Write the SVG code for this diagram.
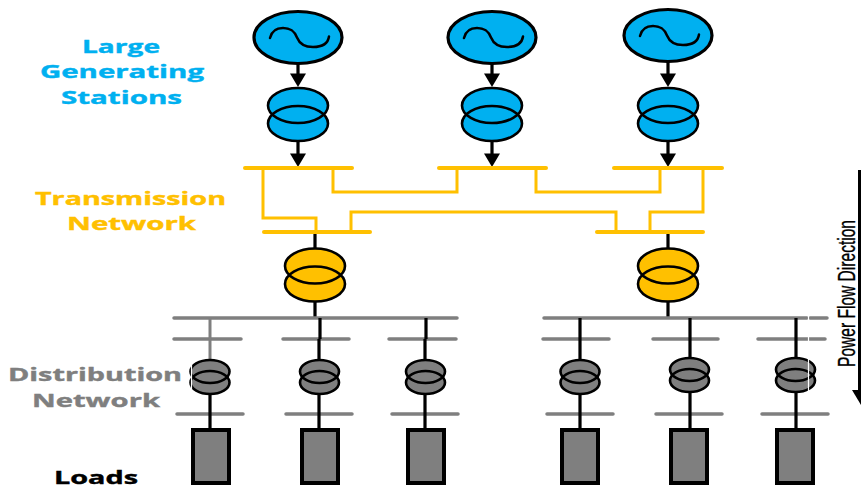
<svg xmlns="http://www.w3.org/2000/svg" width="861" height="488" viewBox="0 0 861 488">
<defs>
<style>
.gen{fill:#00B0F0;stroke:#000;stroke-width:3.2}
.t{fill:none;stroke:#000;stroke-width:2.6}
.tb{fill:#00B0F0}.ty{fill:#FFC000}.tg{fill:#7F7F7F}
.wave{fill:none;stroke:#000;stroke-width:2.5;stroke-linecap:round}
.bus{stroke:#FFC000;stroke-width:4;stroke-linecap:round;fill:none}
.yl{stroke:#FFC000;stroke-width:3;fill:none}
.gb{stroke:#7F7F7F;stroke-width:3.5;stroke-linecap:round;fill:none}
.k{stroke:#000;stroke-width:3.2;fill:none}
.load{fill:#7F7F7F;stroke:#000;stroke-width:4}
.lbl{font-family:"Open Sans","Liberation Sans",sans-serif;font-weight:700;font-size:18px;stroke-width:.4px}
</style>
<g id="genSym"><ellipse class="gen" cx="0" cy="0" rx="44" ry="26"/><path class="wave" d="M-28,0.500C-26,-8 -20,-9.500 -15,-9.500C-6,-9.500 -3,-5 -1,0C1,5 5,9.500 15,9.500C24,9.500 30,6 31,-1"/></g>
<g id="xf"><ellipse cx="0" cy="0" rx="30" ry="17.500"/><ellipse cx="0" cy="18" rx="30" ry="17.500"/><ellipse class="t" cx="0" cy="0" rx="30" ry="17.500"/><ellipse class="t" cx="0" cy="18" rx="30" ry="17.500"/></g>
<g id="sxf"><ellipse class="tg" cx="0" cy="0" rx="19.500" ry="11.500"/><ellipse class="tg" cx="0" cy="11" rx="19.500" ry="11.500"/><ellipse class="t" cx="0" cy="0" rx="19.500" ry="11.500"/><ellipse class="t" cx="0" cy="11" rx="19.500" ry="11.500"/></g>
<path id="head" d="M-8,0H8L0,13.500Z" fill="#000"/>
</defs>
<rect width="861" height="488" fill="#fff"/>
<g id="connectors">
<path class="k" d="M298,64V75M298,141V155M492,64V75M492,141V155M668,62V75M668,141V155"/>
<use href="#head" x="298" y="73.500"/><use href="#head" x="298" y="153.500"/>
<use href="#head" x="492" y="73.500"/><use href="#head" x="492" y="153.500"/>
<use href="#head" x="668" y="73.500"/><use href="#head" x="668" y="153.500"/>
<path class="yl" d="M263,168V218H316V232M333,168V192H457V168M536,168V192H660V168M703,168V212H650V232M351,232V212H616V232"/>
<path class="k" d="M315,232V248M315,302V318M668,232V248M668,302V318"/>
<path class="gb" d="M174,318H457M544,318H807M810,318H827M174,339H241M283,339H349M389,339H456M543,339H609M653,339H718M758,339H825M177,414H243M286,414H352M392,414H458M547,414H613M656,414H722M762,414H828"/>
<path d="M210,318V360" stroke="#7F7F7F" stroke-width="3" fill="none"/>
<path class="k" d="M210,394V428M320,318V339M319,339V360M319,394V428M426,318V339M425,339V360M425,394V428M580,318V360M580,394V428M690,318V358M690,392V428M796,318V358M796,392V428"/>
<path d="M859.500,170V392" stroke="#000" stroke-width="3" fill="none"/>
<path d="M852,390H861V405Z" fill="#000"/>
</g>
<g id="gen1"><use href="#genSym" x="298" y="37.500"/></g>
<g id="gen2"><use href="#genSym" x="492" y="37.500"/></g>
<g id="gen3"><use href="#genSym" x="668" y="35.500"/></g>
<g id="step1" class="tb"><use href="#xf" x="298" y="105.500"/></g>
<g id="step2" class="tb"><use href="#xf" x="492" y="105.500"/></g>
<g id="step3" class="tb"><use href="#xf" x="668" y="105.500"/></g>
<g id="bus1"><path class="bus" d="M245,168H352"/></g>
<g id="bus2"><path class="bus" d="M439,168H546"/></g>
<g id="bus3"><path class="bus" d="M614,168H722"/></g>
<g id="bus4"><path class="bus" d="M264,232H370"/></g>
<g id="bus5"><path class="bus" d="M597,232H703"/></g>
<g id="sub1" class="ty"><use href="#xf" x="315" y="266"/></g>
<g id="sub2" class="ty"><use href="#xf" x="668" y="266"/></g>
<g id="dt1"><use href="#sxf" x="210" y="371.500"/></g>
<g id="dt2"><use href="#sxf" x="319.500" y="371.500"/></g>
<g id="dt3"><use href="#sxf" x="425.500" y="371.500"/></g>
<g id="dt4"><use href="#sxf" x="580" y="371.500"/></g>
<g id="dt5"><use href="#sxf" x="689.500" y="369.500"/></g>
<g id="dt6"><use href="#sxf" x="795.500" y="369.500"/></g>
<g id="load1"><rect class="load" x="193" y="430" width="36" height="53"/></g>
<g id="load2"><rect class="load" x="302" y="430" width="36" height="53"/></g>
<g id="load3"><rect class="load" x="408" y="430" width="36" height="53"/></g>
<g id="load4"><rect class="load" x="562" y="430" width="36" height="53"/></g>
<g id="load5"><rect class="load" x="671" y="430" width="36" height="53"/></g>
<g id="load6"><rect class="load" x="777" y="430" width="36" height="53"/></g>
<path d="M808.500,316V392M191.500,358V396" stroke="#fff" stroke-width="1.200" fill="none"/>
<g id="labels">
<text class="lbl" x="82" y="53" fill="#00B0F0" stroke="#00B0F0" textLength="78" lengthAdjust="spacingAndGlyphs">Large</text>
<text class="lbl" x="40" y="78" fill="#00B0F0" stroke="#00B0F0" textLength="164" lengthAdjust="spacingAndGlyphs">Generating</text>
<text class="lbl" x="61" y="103.500" fill="#00B0F0" stroke="#00B0F0" textLength="121" lengthAdjust="spacingAndGlyphs">Stations</text>
<text class="lbl" x="35" y="205" fill="#FFC000" stroke="#FFC000" textLength="191" lengthAdjust="spacingAndGlyphs">Transmission</text>
<text class="lbl" x="67" y="230" fill="#FFC000" stroke="#FFC000" textLength="129" lengthAdjust="spacingAndGlyphs">Network</text>
<text class="lbl" x="8" y="381" fill="#7F7F7F" stroke="#7F7F7F" textLength="174" lengthAdjust="spacingAndGlyphs">Distribution</text>
<text class="lbl" x="32" y="406.500" fill="#7F7F7F" stroke="#7F7F7F" textLength="128" lengthAdjust="spacingAndGlyphs">Network</text>
<text class="lbl" x="54" y="484" fill="#000" stroke="#000" textLength="84" lengthAdjust="spacingAndGlyphs">Loads</text>
<text transform="translate(855,367) rotate(-90)" font-family="'Liberation Sans Narrow','Liberation Sans',sans-serif" font-size="23" fill="#000" stroke="#000" stroke-width=".35" textLength="147" lengthAdjust="spacingAndGlyphs">Power Flow Direction</text>
</g>
</svg>
